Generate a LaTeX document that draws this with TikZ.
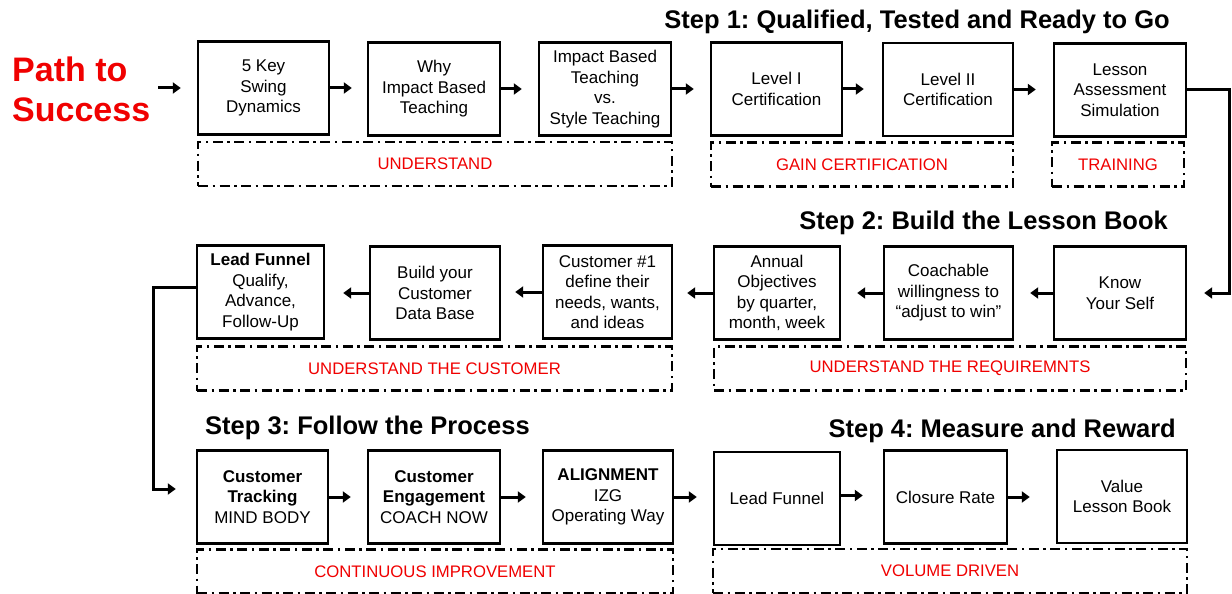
\documentclass[tikz,border=0pt]{standalone}
\usepackage{fontspec}
\setmainfont{Liberation Sans}
\usetikzlibrary{arrows.meta,calc}
\definecolor{redtxt}{RGB}{240,0,0}
\begin{document}
\frenchspacing
\begin{tikzpicture}[x=1pt,y=-1pt,
 box/.style={draw, line width=2.4pt, minimum height=93pt, inner sep=2pt, align=center, font=\fontsize{17}{20.5}\selectfont},
 grp/.style={draw, line width=2.2pt, dash pattern=on 10pt off 4.5pt on 2.5pt off 4.5pt, minimum height=44pt, inner sep=0pt, text=redtxt, font=\fontsize{16.7}{19}\selectfont},
 arr/.style={line width=3pt, -{Triangle[length=8pt,width=11pt]}},
 conn/.style={line width=3pt, -{Triangle[length=8pt,width=11pt]}},
 ttl/.style={font=\fontsize{25.5}{30}\bfseries\selectfont, inner sep=0pt}]
\useasboundingbox (0,0) rectangle (1232,594);
\fill[white] (0,0) rectangle (1232,594);

% titles
\node[font=\fontsize{34}{40}\bfseries\selectfont, text=redtxt, align=left, anchor=west, inner sep=0pt] (path) at (12,89) {Path to\\Success};
\node[ttl, anchor=east] (s1) at (1170,22) {Step 1: Qualified, Tested and Ready to Go};
\node[ttl, anchor=east] (s2) at (1168,223) {Step 2: Build the Lesson Book};
\node[ttl, anchor=west] (s3) at (205,428) {Step 3: Follow the Process};
\node[ttl, anchor=east] (s4) at (1176,431) {Step 4: Measure and Reward};

% row 1
\node[box, minimum width=131pt] (b1) at (263.5,88) {5 Key\\Swing\\Dynamics};
\node[box, minimum width=132pt] (b2) at (434,89) {Why\\Impact Based\\Teaching};
\node[box, minimum width=132pt] (b3) at (605,89) {Impact Based\\Teaching\\vs.\\Style Teaching};
\node[box, minimum width=131pt] (b4) at (776.5,89) {Level I\\Certification};
\node[box, minimum width=130pt] (b5) at (948,89.5) {Level II\\Certification};
\node[box, minimum width=132pt] (b6) at (1120,90) {Lesson\\Assessment\\Simulation};

\node[grp, minimum width=474pt] (d1) at (435,164) {UNDERSTAND};
\node[grp, minimum width=302pt] (d2) at (862,164.5) {GAIN CERTIFICATION};
\node[grp, minimum width=132pt] (d3) at (1118,164.5) {TRAINING};

% row 2
\node[box, minimum width=132pt] (k) at (1120,293) {Know\\Your Self};
\node[box, minimum width=129pt] (c) at (948.5,293) {Coachable\\willingness to\\“adjust to win”};
\node[box, minimum width=126pt] (a) at (777,293) {Annual\\Objectives\\by quarter,\\month, week};
\node[box, minimum width=129pt] (cu) at (607.5,292) {Customer \#1\\define their\\needs, wants,\\and ideas};
\node[box, minimum width=130pt] (bd) at (435,293) {Build your\\Customer\\Data Base};
\node[box, minimum width=127pt] (lf) at (260.5,292) {\textbf{Lead Funnel}\\Qualify,\\Advance,\\Follow-Up};

\node[grp, minimum width=475pt] (d4) at (434.5,368.5) {UNDERSTAND THE CUSTOMER};
\node[grp, minimum width=472pt] (d5) at (950,368.5) {UNDERSTAND THE REQUIREMNTS};

% row 3
\node[box, minimum width=131pt] (ct) at (262.5,497) {\textbf{Customer}\\\textbf{Tracking}\\MIND BODY};
\node[box, minimum width=132pt] (ce) at (434,497) {\textbf{Customer}\\\textbf{Engagement}\\COACH NOW};
\node[box, minimum width=130pt] (al) at (608,497) {\textbf{ALIGNMENT}\\IZG\\Operating Way};
\node[box, minimum width=126pt] (lf2) at (777,498.5) {Lead Funnel};
\node[box, minimum width=123pt] (cr) at (945.5,497) {Closure Rate};
\node[box, minimum width=130pt] (vl) at (1122,496.5) {Value\\Lesson Book};

\node[grp, minimum width=476pt] (d6) at (435,571.5) {CONTINUOUS IMPROVEMENT};
\node[grp, minimum width=474pt] (d7) at (950,571) {VOLUME DRIVEN};

% arrows row 1
\draw[arr, shorten <=8pt, shorten >=16pt] (path.east |- b1.west) -- (b1.west);
\draw[arr, shorten >=15pt] (b1.east) -- (b1.east -| b2.west);
\draw[arr, shorten >=16pt] (b2.east) -- (b2.east -| b3.west);
\draw[arr, shorten >=16pt] (b3.east) -- (b3.east -| b4.west);
\draw[arr, shorten >=18pt] (b4.east) -- (b4.east -| b5.west);
\draw[arr, shorten >=17pt] (b5.east) -- (b5.east -| b6.west);

% connector row1 -> row2
\coordinate (rt) at (1229,90);
\draw[conn, shorten >=17pt] (b6.east) -- (b6.east -| rt) |- (k.east);

% arrows row 2
\draw[arr, shorten >=16pt] (k.west) -- (k.west -| c.east);
\draw[arr, shorten >=16pt] (c.west) -- (c.west -| a.east);
\draw[arr, shorten >=14pt] (a.west) -- (a.west -| cu.east);
\draw[arr, shorten >=14pt] (cu.west) -- (cu.west -| bd.east);
\draw[arr, shorten >=18pt] (bd.west) -- (bd.west -| lf.east);

% connector row2 -> row3
\coordinate (lt) at (153,287);
\draw[conn, shorten >=20pt] ([yshift=5pt]lf.west) -- (lt) |- ([yshift=8pt]ct.west);

% arrows row 3
\draw[arr, shorten >=16pt] (ct.east) -- (ct.east -| ce.west);
\draw[arr, shorten >=16pt] (ce.east) -- (ce.east -| al.west);
\draw[arr, shorten >=16pt] (al.east) -- (al.east -| lf2.west);
\draw[arr, shorten >=20pt] ([yshift=3pt]lf2.east) -- ([yshift=3pt]lf2.east -| cr.west);
\draw[arr, shorten >=26pt] (cr.east) -- (cr.east -| vl.west);
\end{tikzpicture}
\end{document}
